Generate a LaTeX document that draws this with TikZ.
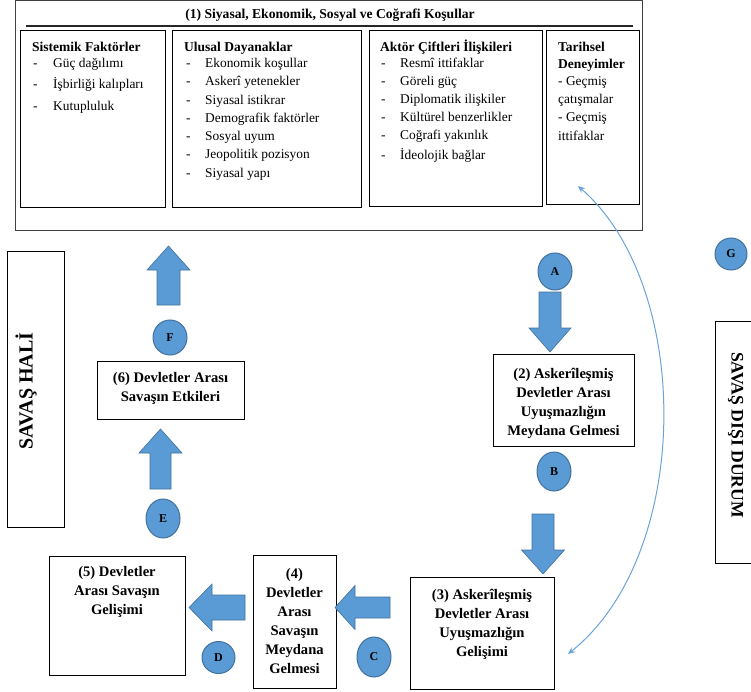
\documentclass[tikz,border=0pt]{standalone}
\usepackage{fontspec}
\setmainfont{Liberation Serif}
\usetikzlibrary{shapes.geometric,arrows.meta}
\definecolor{bfill}{HTML}{5B9BD5}
\definecolor{bdraw}{HTML}{41719C}
\definecolor{curvecol}{HTML}{6AA3DA}
\tikzset{
  pics/barrow/.style args={#1/#2/#3/#4}{code={%
    \filldraw[fill=bfill,draw=bdraw,line width=0.6pt,line join=miter]
      (0,{-#2/2}) -- ({#1-#4},{-#2/2}) -- ({#1-#4},{-#3/2}) -- (#1,0)
      -- ({#1-#4},{#3/2}) -- ({#1-#4},{#2/2}) -- (0,{#2/2}) -- cycle;}},
}
\begin{document}
\begin{tikzpicture}[x=1pt,y=-1pt,
  box/.style={draw=black,line width=1pt,inner sep=0pt},
  heading/.style={anchor=base west,inner sep=0pt,font=\bfseries\fontsize{13.5}{16}\selectfont},
  item/.style={anchor=base west,inner sep=0pt,font=\fontsize{13.4}{16}\selectfont},
  btext/.style={inner sep=0pt,align=center,font=\bfseries\fontsize{14.6}{19}\selectfont},
  circ/.style={ellipse,fill=bfill,draw=bdraw,line width=1pt,inner sep=0pt,font=\bfseries\fontsize{12}{12}\selectfont},
  side/.style={inner sep=0pt,font=\bfseries}]
\useasboundingbox (0,0) rectangle (751,692);

% top frame
\node[draw=black!75,line width=1pt,inner sep=0pt,minimum width=627pt,minimum height=230pt] (outer) at (328.5,116) {};
\node[anchor=base,inner sep=0pt,font=\bfseries\fontsize{13.6}{16}\selectfont] (title) at (330,18.5) {(1) Siyasal, Ekonomik, Sosyal ve Coğrafi Koşullar};
\coordinate (tl) at (26,26);
\coordinate (tr) at (633,26);
\draw[line width=1.4pt,black!85] (tl) -- (tr);

\node[box,minimum width=145pt,minimum height=177pt] (sys) at (92.5,119.5) {};
\node[box,minimum width=189pt,minimum height=177pt] (ulu) at (266.5,119.5) {};
\node[box,minimum width=173pt,minimum height=176pt] (akt) at (455.5,119) {};
\node[box,minimum width=93pt,minimum height=174pt] (tar) at (592.5,118) {};

\node[heading] (sysH) at (32,51.7) {Sistemik Faktörler};
\foreach \t/\y [count=\i] in {Güç dağılımı/67.5, İşbirliği kalıpları/89, Kutupluluk/110.5}{
  \node[item,name=sysD\i] at (33,\y) {-};
  \node[item,name=sysI\i] at (53,\y) {\t};
}
\node[heading] (uluH) at (184,51.7) {Ulusal Dayanaklar};
\foreach \t/\y [count=\i] in {Ekonomik koşullar/67.5, Askerî yetenekler/85.8, Siyasal istikrar/104.1, Demografik faktörler/122.4, Sosyal uyum/140.7, Jeopolitik pozisyon/159, Siyasal yapı/177.3}{
  \node[item,name=uluD\i] at (186,\y) {-};
  \node[item,name=uluI\i] at (205,\y) {\t};
}
\node[heading] (aktH) at (380,51.7) {Aktör Çiftleri İlişkileri};
\foreach \t/\y [count=\i] in {Resmî ittifaklar/67.5, Göreli güç/85.8, Diplomatik ilişkiler/103.6, Kültürel benzerlikler/121.6, Coğrafi yakınlık/139.3, İdeolojik bağlar/159.2}{
  \node[item,name=aktD\i] at (381,\y) {-};
  \node[item,name=aktI\i] at (400,\y) {\t};
}
\node[heading] (tarH1) at (558,51.5) {Tarihsel};
\node[heading] (tarH2) at (558,69) {Deneyimler};
\node[item] (tar1) at (558,85.5) {- Geçmiş};
\node[item] (tar2) at (558,104) {çatışmalar};
\node[item] (tar3) at (558,121.5) {- Geçmiş};
\node[item] (tar4) at (558,140.5) {ittifaklar};

% side boxes
\node[box,minimum width=57pt,minimum height=275pt] (hali) at (35.5,389.5) {};
\node[side,rotate=90,font=\bfseries\fontsize{20}{20}\selectfont] (haliT) at (26,391) {SAVAŞ HALİ};
\node[box,minimum width=36pt,minimum height=242pt] (disi) at (733,442) {};
\node[side,rotate=-90,font=\bfseries\fontsize{17.6}{18}\selectfont] (disiT) at (735.5,435) {SAVAŞ DIŞI DURUM};

% process boxes
\node[box,minimum width=141pt,minimum height=92pt] (b2) at (563.5,400) {};
\node[btext] (b2t) at (563.5,403) {(2) Askerîleşmiş\\Devletler Arası\\Uyuşmazlığın\\Meydana Gelmesi};
\node[box,minimum width=144pt,minimum height=112pt] (b3) at (482,633) {};
\node[btext] (b3t) at (482,624.5) {(3) Askerîleşmiş\\Devletler Arası\\Uyuşmazlığın\\Gelişimi};
\node[box,minimum width=83pt,minimum height=133pt] (b4) at (294.5,621.5) {};
\node[btext] (b4t) at (294.5,620.5) {(4)\\Devletler\\Arası\\Savaşın\\Meydana\\Gelmesi};
\node[box,minimum width=136pt,minimum height=119pt] (b5) at (117,615.5) {};
\node[btext] (b5t) at (117,591.5) {(5) Devletler\\Arası Savaşın\\Gelişimi};
\node[box,minimum width=147pt,minimum height=58pt] (b6) at (170.5,390) {};
\node[btext] (b6t) at (170.5,388.5) {(6) Devletler Arası\\Savaşın Etkileri};

% circles
\node[circ,minimum width=34pt,minimum height=37pt] (cA) at (555,271.5) {A};
\node[circ,minimum width=34pt,minimum height=39pt] (cB) at (554,471.5) {B};
\node[circ,minimum width=34pt,minimum height=40pt] (cC) at (374,657) {C};
\node[circ,minimum width=33pt,minimum height=32pt] (cD) at (218.5,657.5) {D};
\node[circ,minimum width=34pt,minimum height=39pt] (cE) at (163,518.5) {E};
\node[circ,minimum width=34pt,minimum height=35pt] (cF) at (170,337.5) {F};
\node[circ,minimum width=32pt,minimum height=32pt] (cG) at (731,254) {G};

% block arrows
\pic[rotate=90] at (168.5,305) {barrow=59/23/43/24};
\pic[rotate=90] at (160.5,489) {barrow=60/21/43/24};
\pic[rotate=-90] at (550,292) {barrow=60/22/42/24};
\pic[rotate=-90] at (543,514) {barrow=60/22/43/24};
\pic[rotate=180] at (390,607.5) {barrow=55/21/44/20};
\pic[rotate=180] at (245,607.5) {barrow=56/25/47/23};

% curved double arrow
\coordinate (cTop) at (578,186);
\coordinate (cBot) at (568,654);
\draw[curvecol,line width=1pt,{Stealth[length=7pt,width=6pt]}-{Stealth[length=7pt,width=6pt]}]
  (cTop) .. controls (693,286) and (693,554) .. (cBot);
\end{tikzpicture}
\end{document}
